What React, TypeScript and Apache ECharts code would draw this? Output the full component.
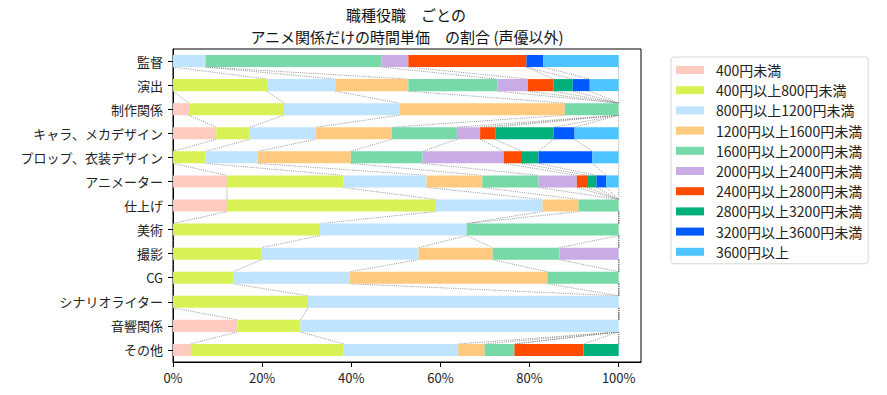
import React, { useEffect, useRef } from "react";
import * as echarts from "echarts";

const categories = [
  "監督",
  "演出",
  "制作関係",
  "キャラ、メカデザイン",
  "プロップ、衣装デザイン",
  "アニメーター",
  "仕上げ",
  "美術",
  "撮影",
  "CG",
  "シナリオライター",
  "音響関係",
  "その他",
];

const bandNames = [
  "400円未満",
  "400円以上800円未満",
  "800円以上1200円未満",
  "1200円以上1600円未満",
  "1600円以上2000円未満",
  "2000円以上2400円未満",
  "2400円以上2800円未満",
  "2800円以上3200円未満",
  "3200円以上3600円未満",
  "3600円以上",
];

const bandColors = [
  "#FFCABF",
  "#D8F255",
  "#BFE4FF",
  "#FFCA80",
  "#77D9A8",
  "#C9ACE6",
  "#FF4B00",
  "#03AF7A",
  "#005AFF",
  "#4DC4FF",
];

// percentage per category (same order as categories)
const under400 = [0, 0, 3.6, 9.7, 0, 12.1, 12.1, 0, 0, 0, 0, 14.4, 4.0];
const from400to800 = [0, 21.1, 21.3, 7.5, 7.3, 26.1, 46.9, 33.0, 19.9, 13.5, 30.3, 14.2, 34.3];
const from800to1200 = [7.3, 15.3, 25.9, 14.8, 11.7, 18.7, 23.9, 32.9, 35.2, 26.2, 69.7, 71.4, 25.7];
const from1200to1600 = [0, 16.4, 37.1, 17.1, 20.9, 12.5, 8.1, 0, 16.6, 44.3, 0, 0, 5.9];
const from1600to2000 = [39.5, 20.0, 12.1, 14.6, 16.1, 12.6, 9.0, 34.1, 15.0, 16.0, 0, 0, 6.7];
const from2000to2400 = [6.0, 6.8, 0, 5.2, 18.2, 8.6, 0, 0, 13.3, 0, 0, 0, 0];
const from2400to2800 = [26.5, 5.8, 0, 3.4, 4.1, 2.3, 0, 0, 0, 0, 0, 0, 15.5];
const from2800to3200 = [0, 4.3, 0, 13.1, 3.7, 2.1, 0, 0, 0, 0, 0, 0, 7.9];
const from3200to3600 = [3.8, 3.8, 0, 4.7, 12.1, 2.2, 0, 0, 0, 0, 0, 0, 0];
const over3600 = [16.9, 6.5, 0, 9.9, 5.9, 2.8, 0, 0, 0, 0, 0, 0, 0];

const xTicks = [0, 20, 40, 60, 80, 100];

const titleLine1 = "職種役職　ごとの";
const titleLine2 = "アニメ関係だけの時間単価　の割合 (声優以外)";

const FONT = '"Noto Sans CJK JP", "Noto Sans", sans-serif';

export default function App() {
  const ref = useRef<HTMLDivElement>(null);

  useEffect(() => {
    if (!ref.current) return;
    const chart = echarts.init(ref.current, undefined, { renderer: "svg" });

    const bands = [
      under400,
      from400to800,
      from800to1200,
      from1200to1600,
      from1600to2000,
      from2000to2400,
      from2400to2800,
      from2800to3200,
      from3200to3600,
      over3600,
    ];

    // cumulative right edges per category
    const cum: number[][] = categories.map((_, i) => {
      let s = 0;
      return bands.map((b) => {
        s += b[i];
        return s;
      });
    });

    const barSeries = bands.map((b, k) => ({
      name: bandNames[k],
      type: "bar",
      stack: "total",
      barWidth: "50%",
      data: b,
      itemStyle: { color: bandColors[k] },
      emphasis: { disabled: true },
      silent: true,
      z: 3,
    }));

    const connectorSeries = {
      name: "_connectors",
      type: "custom",
      silent: true,
      z: 2,
      renderItem: (params: any, api: any) => {
        const i = params.dataIndex;
        const half = api.size([0, 1])[1] * 0.25;
        const children: any[] = [];
        for (let j = 0; j < bandNames.length; j++) {
          const a = api.coord([cum[i][j], i]);
          const b = api.coord([cum[i + 1][j], i + 1]);
          children.push({
            type: "line",
            shape: { x1: a[0], y1: a[1] + half, x2: b[0], y2: b[1] - half },
            style: { stroke: "#7a7a7a", lineWidth: 0.8, lineDash: [1, 1.2] },
          });
        }
        return { type: "group", children };
      },
      data: categories.slice(0, categories.length - 1).map((_, i) => [0, i]),
    };

    chart.setOption({
      animation: false,
      textStyle: { fontFamily: FONT },
      graphic: [
        {
          type: "text",
          x: 406,
          y: 14.5,
          style: {
            text: titleLine1,
            font: `15px ${FONT}`,
            fill: "#111",
            textAlign: "center",
            textVerticalAlign: "middle",
          },
        },
        {
          type: "text",
          x: 407,
          y: 36.5,
          style: {
            text: titleLine2,
            font: `15px ${FONT}`,
            fill: "#111",
            textAlign: "center",
            textVerticalAlign: "middle",
          },
        },
      ],
      legend: {
        data: bandNames,
        orient: "vertical",
        left: 671,
        top: 57,
        icon: "rect",
        itemWidth: 28,
        itemHeight: 8,
        itemGap: 6.2,
        padding: [6, 6, 5, 5],
        borderColor: "#d6d6d6",
        borderWidth: 1,
        borderRadius: 3,
        selectedMode: false,
        textStyle: {
          fontFamily: FONT,
          fontSize: 14,
          lineHeight: 14,
          color: "#222",
          padding: [0, 0, 0, 7],
        },
      },
      grid: {
        left: 173,
        right: 246,
        top: 49,
        bottom: 33,
        show: true,
        borderColor: "#000",
        borderWidth: 1,
        backgroundColor: "transparent",
      },
      xAxis: {
        type: "value",
        min: 0,
        max: 105,
        axisLine: { show: true, lineStyle: { color: "#000", width: 1 } },
        axisTick: {
          show: true,
          length: 5,
          customValues: xTicks,
          lineStyle: { color: "#000" },
        },
        axisLabel: {
          customValues: xTicks,
          formatter: (v: number) => `${v}%`,
          fontSize: 13,
          color: "#222",
          margin: 9,
          fontFamily: FONT,
        },
        splitLine: { show: false },
      },
      yAxis: {
        type: "category",
        inverse: true,
        data: categories,
        axisLine: { show: true, lineStyle: { color: "#000", width: 1 } },
        axisTick: { show: true, alignWithLabel: true, length: 5, lineStyle: { color: "#000" } },
        axisLabel: { fontSize: 13, color: "#222", margin: 10, fontFamily: FONT },
        splitLine: { show: false },
      },
      series: [connectorSeries, ...barSeries],
    });

    return () => {
      chart.dispose();
    };
  }, []);

  return (
    <div
      ref={ref}
      style={{ position: "fixed", left: 0, top: 0, width: 887, height: 395, background: "#fff" }}
    />
  );
}
